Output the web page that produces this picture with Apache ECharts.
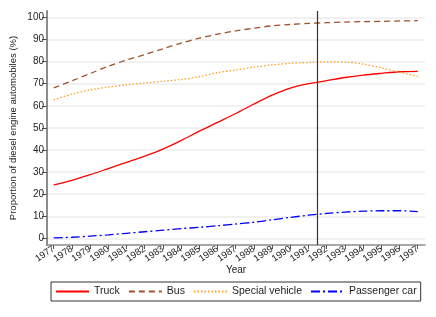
<!DOCTYPE html>
<html>
<head>
<meta charset="utf-8">
<script src="https://cdn.jsdelivr.net/npm/echarts@6/dist/echarts.min.js"></script>
<style>html,body{margin:0;padding:0;background:#fff}#c{width:436px;height:317px}</style>
</head>
<body>
<div id="c"></div>
<script>
const years = [1977,1978,1979,1980,1981,1982,1983,1984,1985,1986,1987,1988,1989,1990,1991,1992,1993,1994,1995,1996,1997];
const truck = [24.2,26.3,28.8,31.6,34.4,37.2,40.4,44.3,48.5,52.5,56.5,60.8,64.8,68.0,70.0,71.4,72.8,73.9,74.7,75.4,75.6];
const bus = [68.1,71.3,74.6,77.9,80.7,83.2,85.8,88.4,90.6,92.4,93.9,95.1,96.2,96.8,97.3,97.6,97.9,98.1,98.2,98.4,98.5];
const special = [62.7,65.3,67.2,68.5,69.4,70.3,71.1,71.9,73.2,75.0,76.2,77.5,78.5,79.2,79.6,79.9,79.8,78.9,77.2,75.2,73.3];
const passenger = [0.2,0.5,1.0,1.6,2.3,3.0,3.7,4.4,5.0,5.7,6.5,7.3,8.4,9.5,10.5,11.3,11.9,12.3,12.5,12.5,12.1];
const yTicks = [0,10,20,30,40,50,60,70,80,90,100];
const cutYear = 1991.5;

const font = 'Liberation Sans, Arial, sans-serif';
const pair = (arr) => years.map((y, i) => [y, arr[i]]);

const chart = echarts.init(document.getElementById('c'), null, {renderer: 'canvas'});
chart.setOption({
  animation: false,
  textStyle: {fontFamily: font},
  grid: {left: 46, right: 11, top: 11, bottom: 72},
  xAxis: {
    type: 'value', min: 1976.63, max: 1997.4,
    name: 'Year', nameLocation: 'middle', nameGap: 20, nameMoveOverlap: false,
    nameTextStyle: {fontSize: 10, color: '#222', fontFamily: font},
    axisLine: {show: true, onZero: false, lineStyle: {color: '#8c8c8c', width: 1.5}},
    axisTick: {show: true, length: 4, customValues: years, lineStyle: {color: '#555'}},
    axisLabel: {customValues: years, rotate: 34, fontSize: 9.5, color: '#222', margin: 3, formatter: v => String(v)},
    splitLine: {show: false}
  },
  yAxis: {
    type: 'value', min: -3, max: 102.9,
    name: 'Proportion of diesel engine automobiles (%)', nameLocation: 'middle', nameGap: 29, nameMoveOverlap: false,
    nameTextStyle: {fontSize: 9.5, color: '#222', fontFamily: font},
    axisLine: {show: true, lineStyle: {color: '#8c8c8c', width: 2}},
    axisTick: {show: true, length: 5, customValues: yTicks, lineStyle: {color: '#555'}},
    axisLabel: {customValues: yTicks, fontSize: 10, color: '#222', margin: 3},
    splitLine: {show: true, lineStyle: {color: '#ececec', width: 1.5}}
  },
  legend: {
    show: true,
    left: 51, top: 282,
    orient: 'horizontal',
    itemWidth: 33, itemHeight: 10, itemGap: 8,
    padding: [4, 4, 4, 4],
    borderColor: '#333', borderWidth: 1,
    itemStyle: {opacity: 0},
    textStyle: {fontSize: 10.5, color: '#222', fontFamily: font},
    data: ['Truck','Bus','Special vehicle','Passenger car']
  },
  series: [
    {name: 'Truck', type: 'line', data: pair(truck), showSymbol: false, symbol: 'none', smooth: 0.3,
     lineStyle: {color: '#ff0000', width: 1.3, type: 'solid'}, itemStyle: {color: '#ff0000'},
     markLine: {silent: true, symbol: 'none', label: {show: false},
       lineStyle: {color: '#333', width: 1.2, type: 'solid'}, data: [{xAxis: cutYear}]}},
    {name: 'Bus', type: 'line', data: pair(bus), showSymbol: false, symbol: 'none', smooth: 0.3,
     lineStyle: {color: '#a0522d', width: 1.3, type: [6, 4]}, itemStyle: {color: '#a0522d'}},
    {name: 'Special vehicle', type: 'line', data: pair(special), showSymbol: false, symbol: 'none', smooth: 0.3,
     lineStyle: {color: '#ff9f1c', width: 1.3, type: [1.5, 2]}, itemStyle: {color: '#ff9f1c'}},
    {name: 'Passenger car', type: 'line', data: pair(passenger), showSymbol: false, symbol: 'none', smooth: 0.3,
     lineStyle: {color: '#0000ff', width: 1.3, type: [9, 3, 2, 3]}, itemStyle: {color: '#0000ff'}}
  ]
});
</script>
</body>
</html>
